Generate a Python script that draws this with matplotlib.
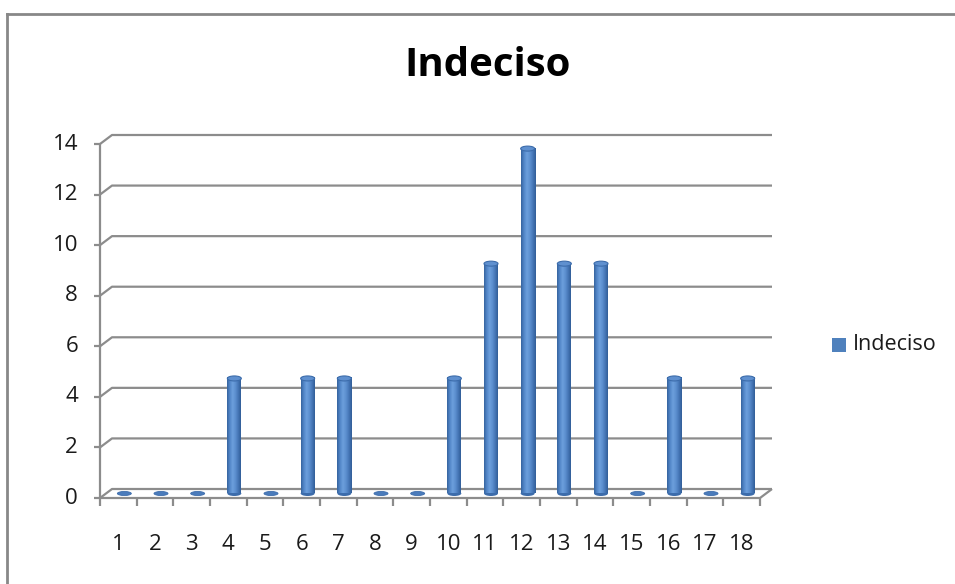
import matplotlib.pyplot as plt
import numpy as np
from matplotlib.patches import Rectangle, Ellipse
from matplotlib.lines import Line2D
from matplotlib.colors import LinearSegmentedColormap

plt.rcParams['font.family'] = ['Open Sans', 'DejaVu Sans']

categories = [str(i) for i in range(1, 19)]
values = [0, 0, 0, 4.55, 0, 4.55, 4.55, 0, 0, 4.55, 9.09, 13.64, 9.09, 9.09, 0, 4.55, 0, 4.55]
y_ticks = [0, 2, 4, 6, 8, 10, 12, 14]
series_name = 'Indeciso'

W, H = 955, 584
fig = plt.figure(figsize=(W / 100, H / 100), dpi=100)

# plot area in pixels (front face)
x0, x1 = 100, 760
y_bot, y_top = 498, 144
ax = fig.add_axes([x0 / W, (H - y_bot) / H, (x1 - x0) / W, (y_bot - y_top) / H])
n = len(categories)
ymax = y_ticks[-1]
ax.axis('off')

# pixel -> data conversions for the fake depth
ux = (x1 - x0) / n
uy = (y_bot - y_top) / ymax
ddx, ddy = 12 / ux, 9 / uy

grid_c = '#8c8c8c'
lw = 1.6
kw = dict(color=grid_c, lw=lw, clip_on=False, solid_capstyle='butt')

# back-wall gridlines with the little diagonal from the axis
for v in y_ticks:
    ax.plot([0, ddx, n + ddx], [v, v + ddy, v + ddy], **kw)
    ax.plot([-6 / ux, 0], [v, v], **kw)

# left axis and floor
ax.plot([0, 0], [0, ymax], **kw)
ax.plot([0, n, n + ddx], [0, 0, ddy], **kw)
for i in range(n + 1):
    ax.plot([i, i], [0, -8 / uy], **kw)

# cylinders, standing half way into the depth
cmap = LinearSegmentedColormap.from_list(
    'cyl', ['#36649f', '#5286c8', '#6c9fdc', '#5d90d0', '#4677b7', '#325e98'])
grad = np.linspace(0, 1, 64).reshape(1, -1)
bw = 14 / ux
eh = 5 / uy
for i, v in enumerate(values):
    cx = i + 0.5 + ddx / 2
    base = ddy / 2
    top = v + base
    if v > 0:
        body = Rectangle((cx - bw / 2, base), bw, v, facecolor='none',
                         edgecolor='none', clip_on=False)
        ax.add_patch(body)
        im = ax.imshow(grad, extent=[cx - bw / 2, cx + bw / 2, base, top], cmap=cmap,
                       aspect='auto', zorder=3, clip_on=False)
        im.set_clip_path(body)
        ax.add_patch(Ellipse((cx, base), bw, eh, facecolor='#3c6cab',
                             edgecolor='none', zorder=2.9, clip_on=False))
        ax.add_patch(Ellipse((cx, top), bw, eh, facecolor='#5f90cf',
                             edgecolor='#3c6cab', lw=0.8, zorder=4, clip_on=False))
    else:
        ax.add_patch(Ellipse((cx, base), bw, eh * 0.8, facecolor='#4a7bbb',
                             edgecolor='#3c6cab', lw=0.6, zorder=4, clip_on=False))

ax.set_xlim(0, n)
ax.set_ylim(0, ymax)

# tick labels
for v in y_ticks:
    ax.text(-22 / ux, v, str(v), ha='right', va='center', fontsize=16, color='#1a1a1a')
for i, c in enumerate(categories):
    ax.text(i + 0.5, -47 / uy, c, ha='center', va='center', fontsize=16, color='#1a1a1a')

# title
fig.text(488 / W, 1 - 65 / H, series_name, ha='center', va='center', fontsize=29,
         fontweight='bold', color='black')

# legend
fig.patches.append(Rectangle((832 / W, 1 - 352 / H), 14 / W, 14 / H, facecolor='#4f81bd',
                             edgecolor='none', transform=fig.transFigure))
fig.text(853 / W, 1 - 344 / H, series_name, ha='left', va='center', fontsize=15.5, color='#1a1a1a')

# chart frame
fig.add_artist(Line2D([7 / W, 1], [1 - 14 / H, 1 - 14 / H], color='#888888', lw=2,
                      transform=fig.transFigure))
fig.add_artist(Line2D([7 / W, 7 / W], [0, 1 - 14 / H], color='#888888', lw=2,
                      transform=fig.transFigure))

fig.savefig('out.png', dpi=100)
